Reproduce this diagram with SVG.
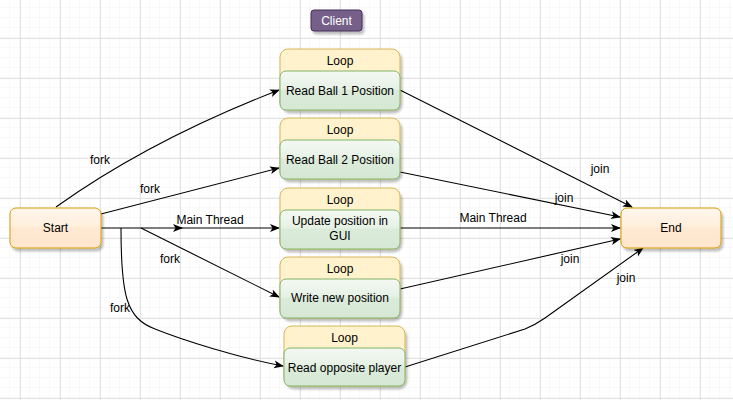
<svg xmlns="http://www.w3.org/2000/svg" width="733" height="400" viewBox="0 0 733 400">
<defs>
  <pattern id="minor" x="0" y="-2" width="10" height="10" patternUnits="userSpaceOnUse">
    <path d="M10 0 V10 M0 10 H10" fill="none" stroke="#f2f2f2" stroke-width="1"/>
  </pattern>
  <pattern id="major" x="20" y="38" width="40" height="40" patternUnits="userSpaceOnUse">
    <path d="M0.5 0 V40 M0 0.5 H40" fill="none" stroke="#e2e2e2" stroke-width="1"/>
  </pattern>
  <linearGradient id="gGreen" x1="0" y1="0" x2="0" y2="1">
    <stop offset="0" stop-color="#f4f9f3"/>
    <stop offset="0.45" stop-color="#e6f1e5"/>
    <stop offset="0.5" stop-color="#dbebda"/>
    <stop offset="1" stop-color="#d5e8d4"/>
  </linearGradient>
  <linearGradient id="gOrange" x1="0" y1="0" x2="0" y2="1">
    <stop offset="0" stop-color="#fff6ec"/>
    <stop offset="0.45" stop-color="#ffefdd"/>
    <stop offset="0.5" stop-color="#ffe9d3"/>
    <stop offset="1" stop-color="#ffe6cc"/>
  </linearGradient>
  <filter id="shadow" x="-10%" y="-10%" width="130%" height="140%">
    <feGaussianBlur in="SourceAlpha" stdDeviation="1.2"/>
    <feOffset dx="2" dy="3" result="o"/>
    <feComponentTransfer><feFuncA type="linear" slope="0.25"/></feComponentTransfer>
    <feMerge><feMergeNode/><feMergeNode in="SourceGraphic"/></feMerge>
  </filter>
  <marker id="arr" viewBox="0 0 10 10" refX="9" refY="5" markerWidth="10" markerHeight="10" markerUnits="userSpaceOnUse" orient="auto">
    <path d="M0,1 L10,5 L0,9 L2.5,5 Z" fill="#000"/>
  </marker>
  <style>
    .lbl { font-family: "Liberation Sans", Arial, sans-serif; font-size: 12px; fill: #000; text-anchor: middle; }
    .edge { fill: none; stroke: #000; stroke-width: 1.1; marker-end: url(#arr); }
    .lane { fill: #fff2cc; stroke: #d6b656; stroke-width: 1; }
    .body { fill: url(#gGreen); stroke: #82b366; stroke-width: 1; }
    .term { fill: url(#gOrange); stroke: #d79b00; stroke-width: 1; }
  </style>
</defs>
<rect width="733" height="400" fill="#fff"/>
<rect width="733" height="400" fill="url(#minor)"/>
<rect width="733" height="400" fill="url(#major)"/>

<g id="client">
  <rect x="311" y="10" width="51" height="21" rx="3" fill="#76608a" stroke="#432d57" filter="url(#shadow)"/>
  <text class="lbl" x="336.5" y="24.5" style="fill:#fff">Client</text>
</g>

<g id="connectors">
  <path class="edge" d="M56,207 Q150,140 279,90"/>
  <path class="edge" d="M101,214 L279,168"/>
  <path class="edge" d="M101,228 L182,228"/>
  <path class="edge" d="M180,228 L279,228"/>
  <path class="edge" d="M141,228 L279,297"/>
  <path class="edge" d="M121,228 C121,295 126,318 155,329 C185,341 240,358 283,366"/>
  <path class="edge" d="M400,90 L632,207"/>
  <path class="edge" d="M400,172 L620,217"/>
  <path class="edge" d="M400,228 L620,228"/>
  <path class="edge" d="M400,289 L620,239"/>
  <path class="edge" d="M405,367 L525,329 Q535,325 545,318 L643,248"/>
  <text class="lbl" x="100" y="164">fork</text>
  <text class="lbl" x="150" y="193">fork</text>
  <text class="lbl" x="210" y="224">Main Thread</text>
  <text class="lbl" x="170" y="263">fork</text>
  <text class="lbl" x="120" y="312">fork</text>
  <text class="lbl" x="600" y="173">join</text>
  <text class="lbl" x="564" y="202">join</text>
  <text class="lbl" x="493" y="222">Main Thread</text>
  <text class="lbl" x="570" y="263">join</text>
  <text class="lbl" x="626" y="282">join</text>
</g>

<g id="start">
  <rect class="term" x="10" y="208" width="91" height="40" rx="6" filter="url(#shadow)"/>
  <text class="lbl" x="55.5" y="232">Start</text>
</g>

<g id="end">
  <rect class="term" x="621" y="208" width="100" height="40" rx="6" filter="url(#shadow)"/>
  <text class="lbl" x="671" y="232">End</text>
</g>

<g id="loop1">
  <rect class="lane" x="280" y="49" width="120" height="61" rx="8" filter="url(#shadow)"/>
  <text class="lbl" x="340" y="65">Loop</text>
  <rect class="body" x="280" y="71" width="120" height="39" rx="6"/>
  <text class="lbl" x="340" y="95">Read Ball 1 Position</text>
</g>

<g id="loop2">
  <rect class="lane" x="280" y="118" width="120" height="61" rx="8" filter="url(#shadow)"/>
  <text class="lbl" x="340" y="134">Loop</text>
  <rect class="body" x="280" y="140" width="120" height="39" rx="6"/>
  <text class="lbl" x="340" y="164">Read Ball 2 Position</text>
</g>

<g id="loop3">
  <rect class="lane" x="280" y="188" width="120" height="61" rx="8" filter="url(#shadow)"/>
  <text class="lbl" x="340" y="204">Loop</text>
  <rect class="body" x="280" y="210" width="120" height="39" rx="6"/>
  <text class="lbl" x="340" y="225">Update position in</text>
  <text class="lbl" x="340" y="240">GUI</text>
</g>

<g id="loop4">
  <rect class="lane" x="280" y="257" width="120" height="61" rx="8" filter="url(#shadow)"/>
  <text class="lbl" x="340" y="273">Loop</text>
  <rect class="body" x="280" y="279" width="120" height="39" rx="6"/>
  <text class="lbl" x="340" y="302">Write new position</text>
</g>

<g id="loop5">
  <rect class="lane" x="284" y="326" width="121" height="60" rx="8" filter="url(#shadow)"/>
  <text class="lbl" x="344.5" y="342">Loop</text>
  <rect class="body" x="284" y="348" width="121" height="38" rx="6"/>
  <text class="lbl" x="344.5" y="372">Read opposite player</text>
</g>
</svg>
